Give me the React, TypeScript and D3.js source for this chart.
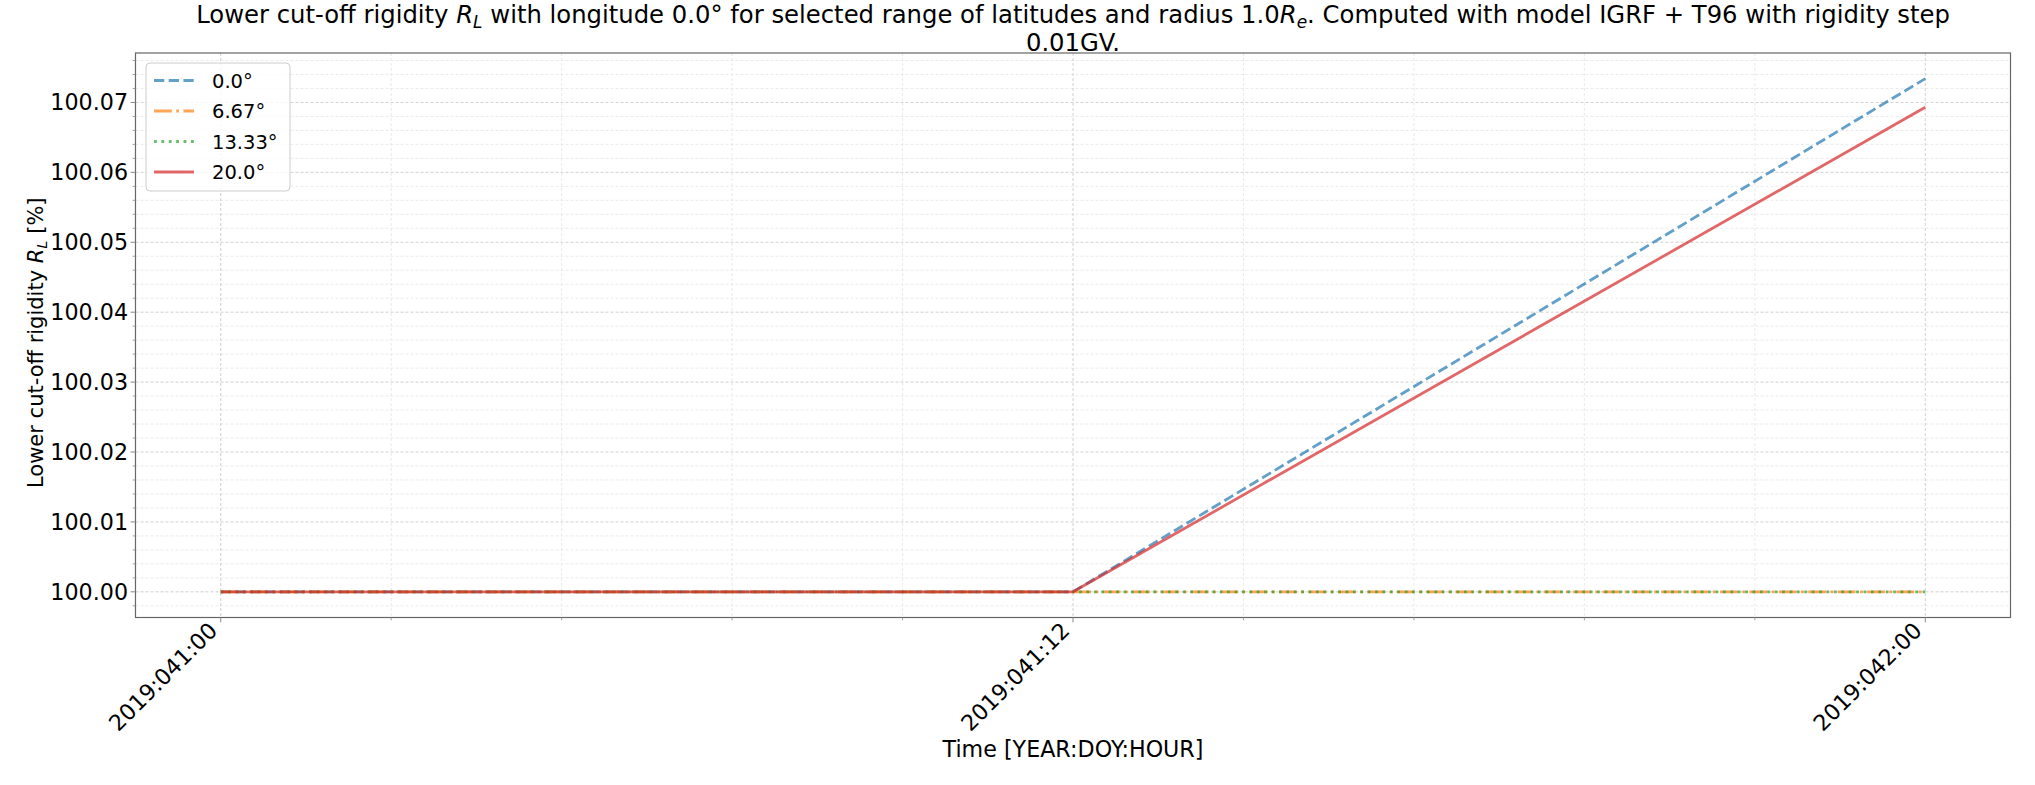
import React from "react";
import * as d3 from "d3";

const hours = [0, 12, 24];
const lat0 = [100.0, 100.0, 100.0734];
const lat667 = [100.0, 100.0, 100.0];
const lat1333 = [100.0, 100.0, 100.0];
const lat20 = [100.0, 100.0, 100.0693];
const seriesLabels = ["0.0°", "6.67°", "13.33°", "20.0°"];
const seriesColors = ["#1f77b4", "#ff7f0e", "#2ca02c", "#d62728"];
const xTickHours = [0, 12, 24];
const xTickLabels = ["2019:041:00", "2019:041:12", "2019:042:00"];
const yTicks = [100.0, 100.01, 100.02, 100.03, 100.04, 100.05, 100.06, 100.07];

const W = 2035;
const H = 785;
const left = 135.5;
const right = 2010.5;
const top = 53;
const bottom = 617.5;
const FONT = "DejaVu Sans, sans-serif";
const FS = 22.2;
const FS_YLAB = 21;
const FS_TITLE = 24.3;
const FS_LEG = 19.5;

export default function App() {
  const series = [lat0, lat667, lat1333, lat20];
  const dashes = ["10.3 4.4", "17.8 4.4 2.8 4.4", "2.8 4.6", null];
  const all = series.flat();
  const yMin = d3.min(all)!;
  const yMax = d3.max(all)!;
  const yPad = (yMax - yMin) * 0.05;
  const xMin = d3.min(hours)!;
  const xMax = d3.max(hours)!;
  const xPad = (xMax - xMin) * 0.05;
  const x = d3.scaleLinear().domain([xMin - xPad, xMax + xPad]).range([left, right]);
  const y = d3.scaleLinear().domain([yMin - yPad, yMax + yPad]).range([bottom, top]);

  const xMinor: number[] = [];
  for (let i = -5; i <= 15; i++) {
    const v = i * 2.4;
    if (v >= x.domain()[0] && v <= x.domain()[1] && i % 5 !== 0) xMinor.push(v);
  }
  const yMinor: number[] = [];
  for (let i = -5; i <= 45; i++) {
    const v = 100 + i * 0.002;
    if (v >= y.domain()[0] && v <= y.domain()[1] && i % 5 !== 0) yMinor.push(v);
  }

  const line = d3
    .line<number>()
    .x((_, i) => x(hours[i]))
    .y((d) => y(d));

  const cx = (left + right) / 2;
  const sub = (fs: number) => fs * 0.2;

  return (
    <svg
      width={W}
      height={H}
      style={{ position: "absolute", left: 0, top: 0, background: "#fff" }}
      fontFamily={FONT}
    >
      <rect x={0} y={0} width={W} height={H} fill="#fff" />
      {/* minor grid */}
      {xMinor.map((v) => (
        <line key={"xm" + v} x1={x(v)} x2={x(v)} y1={top} y2={bottom} stroke="#e4e4e4" strokeWidth={0.8} strokeDasharray="3 2" />
      ))}
      {yMinor.map((v) => (
        <line key={"ym" + v} x1={left} x2={right} y1={y(v)} y2={y(v)} stroke="#e4e4e4" strokeWidth={0.8} strokeDasharray="3 2" />
      ))}
      {/* major grid */}
      {xTickHours.map((v) => (
        <line key={"xg" + v} x1={x(v)} x2={x(v)} y1={top} y2={bottom} stroke="#c4c4c4" strokeWidth={0.8} strokeDasharray="3 2" />
      ))}
      {yTicks.map((v) => (
        <line key={"yg" + v} x1={left} x2={right} y1={y(v)} y2={y(v)} stroke="#c4c4c4" strokeWidth={0.8} strokeDasharray="3 2" />
      ))}
      {/* series */}
      {series.map((s, i) => (
        <path
          key={"s" + i}
          d={line(s)!}
          fill="none"
          stroke={seriesColors[i]}
          strokeOpacity={0.7}
          strokeWidth={2.8}
          strokeDasharray={dashes[i] ?? undefined}
        />
      ))}
      {/* spines */}
      <rect x={left} y={top} width={right - left} height={bottom - top} fill="none" stroke="#666" strokeWidth={1.2} />
      {/* ticks */}
      {xTickHours.map((v) => (
        <line key={"xt" + v} x1={x(v)} x2={x(v)} y1={bottom} y2={bottom + 4.9} stroke="#888" strokeWidth={1} />
      ))}
      {xMinor.map((v) => (
        <line key={"xmt" + v} x1={x(v)} x2={x(v)} y1={bottom} y2={bottom + 2.8} stroke="#888" strokeWidth={0.8} />
      ))}
      {yTicks.map((v) => (
        <line key={"yt" + v} x1={left - 4.9} x2={left} y1={y(v)} y2={y(v)} stroke="#888" strokeWidth={1} />
      ))}
      {yMinor.map((v) => (
        <line key={"ymt" + v} x1={left - 2.8} x2={left} y1={y(v)} y2={y(v)} stroke="#888" strokeWidth={0.8} />
      ))}
      {/* y tick labels */}
      {yTicks.map((v) => (
        <text key={"yl" + v} x={128} y={y(v)} dy="0.36em" textAnchor="end" fontSize={FS} fill="#000">
          {v.toFixed(2)}
        </text>
      ))}
      {/* x tick labels */}
      {xTickHours.map((v, i) => (
        <text
          key={"xl" + v}
          transform={`translate(${x(v) - 2},${bottom + 14.5}) rotate(-45)`}
          textAnchor="end"
          fontSize={FS}
          fill="#000"
        >
          {xTickLabels[i]}
        </text>
      ))}
      {/* axis labels */}
      <text x={cx} y={757} textAnchor="middle" fontSize={FS} fill="#000">
        Time [YEAR:DOY:HOUR]
      </text>
      <text transform={`translate(42.5,488) rotate(-90)`} textAnchor="start" fontSize={FS_YLAB} fill="#000">
        Lower cut-off rigidity <tspan fontStyle="italic">R</tspan>
        <tspan fontStyle="italic" fontSize={FS_YLAB * 0.7} dy={sub(FS_YLAB)}>L</tspan>
        <tspan dy={-sub(FS_YLAB)}> [%]</tspan>
      </text>
      {/* title */}
      <text x={cx} y={23} textAnchor="middle" fontSize={FS_TITLE} fill="#000">
        Lower cut-off rigidity <tspan fontStyle="italic">R</tspan>
        <tspan fontStyle="italic" fontSize={FS_TITLE * 0.7} dy={sub(FS_TITLE)}>L</tspan>
        <tspan dy={-sub(FS_TITLE)}> with longitude 0.0° for selected range of latitudes and radius 1.0</tspan>
        <tspan fontStyle="italic">R</tspan>
        <tspan fontStyle="italic" fontSize={FS_TITLE * 0.7} dy={sub(FS_TITLE)}>e</tspan>
        <tspan dy={-sub(FS_TITLE)}>. Computed with model IGRF + T96 with rigidity step</tspan>
      </text>
      <text x={cx} y={51} textAnchor="middle" fontSize={FS_TITLE} fill="#000">
        0.01GV.
      </text>
      {/* legend */}
      <rect x={146} y={63} width={144} height={128} rx={4} fill="#fff" fillOpacity={0.8} stroke="#cccccc" strokeWidth={1} />
      {seriesLabels.map((lab, i) => {
        const ly = 80.5 + i * 30.5;
        return (
          <g key={"lg" + i}>
            <line
              x1={154}
              x2={194}
              y1={ly}
              y2={ly}
              stroke={seriesColors[i]}
              strokeOpacity={0.7}
              strokeWidth={2.8}
              strokeDasharray={dashes[i] ?? undefined}
            />
            <text x={212} y={ly} dy="0.36em" fontSize={FS_LEG} fill="#000">
              {lab}
            </text>
          </g>
        );
      })}
    </svg>
  );
}
